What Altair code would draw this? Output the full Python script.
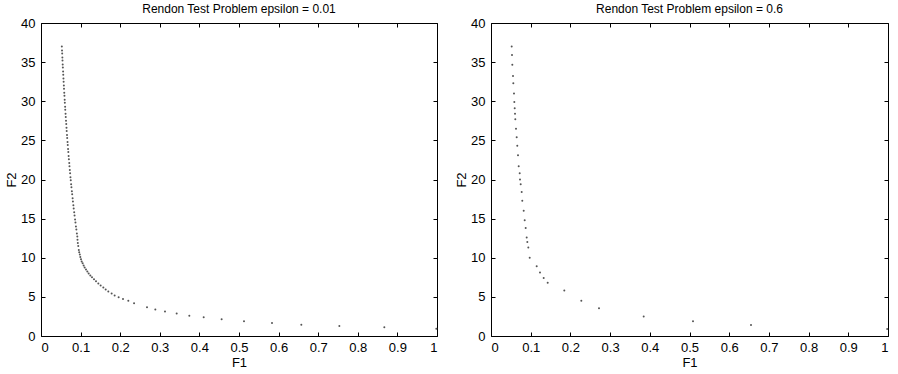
import altair as alt
import pandas as pd

# ---- Panel 1: epsilon = 0.01 ----
f1_eps001 = [
    0.0526, 0.0531, 0.0535, 0.0540, 0.0543, 0.0548, 0.0552, 0.0558, 0.0562, 0.0567,
    0.0571, 0.0577, 0.0581, 0.0587, 0.0592, 0.0598, 0.0602, 0.0609, 0.0613, 0.0620,
    0.0625, 0.0632, 0.0637, 0.0644, 0.0649, 0.0656, 0.0662, 0.0670, 0.0676, 0.0683,
    0.0690, 0.0698, 0.0704, 0.0713, 0.0719, 0.0728, 0.0735, 0.0744, 0.0752, 0.0761,
    0.0769, 0.0779, 0.0787, 0.0798, 0.0806, 0.0817, 0.0826, 0.0838, 0.0847, 0.0860,
    0.0870, 0.0882, 0.0893, 0.0906, 0.0917, 0.0922, 0.0930, 0.0941, 0.0955, 0.0965,
    0.0980, 0.0993, 0.1010, 0.1027, 0.1052, 0.1077, 0.1102, 0.1136, 0.1170, 0.1204,
    0.1246, 0.1288, 0.1338, 0.1389, 0.1448, 0.1506, 0.1574, 0.1633, 0.1700, 0.1784,
    0.1860, 0.1961, 0.2071, 0.2205, 0.2350, 0.2677, 0.2887, 0.3131, 0.3426, 0.3746,
    0.4108, 0.4562, 0.5126, 0.5833, 0.6574, 0.7534, 0.8670, 0.9983,
]
f2_eps001 = [
    37.0, 36.5, 36.1, 35.6, 35.2, 34.7, 34.3, 33.8, 33.4, 32.9,
    32.5, 32.0, 31.6, 31.1, 30.7, 30.2, 29.8, 29.3, 28.9, 28.4,
    28.0, 27.5, 27.1, 26.6, 26.2, 25.7, 25.3, 24.8, 24.4, 23.9,
    23.5, 23.0, 22.6, 22.1, 21.7, 21.2, 20.8, 20.3, 19.9, 19.4,
    19.0, 18.5, 18.1, 17.6, 17.2, 16.7, 16.3, 15.8, 15.4, 14.9,
    14.5, 14.0, 13.6, 13.1, 12.7, 12.3, 11.9, 11.5, 11.0, 10.7,
    10.4, 10.1, 9.8, 9.53, 9.3, 9.0, 8.76, 8.5, 8.24, 7.99,
    7.73, 7.5, 7.26, 7.0, 6.7, 6.45, 6.2, 5.94, 5.68, 5.42,
    5.17, 4.96, 4.74, 4.49, 4.19, 3.67, 3.38, 3.12, 2.86, 2.6,
    2.39, 2.14, 1.88, 1.67, 1.45, 1.28, 1.11, 0.94,
]

# ---- Panel 2: epsilon = 0.6 ----
f1_eps06 = [
    0.0521, 0.0529, 0.0537, 0.0554, 0.0562, 0.0579, 0.0587, 0.0597, 0.0605, 0.0612,
    0.0630, 0.0647, 0.0662, 0.0680, 0.0698, 0.0723, 0.0730, 0.0748, 0.0773, 0.0788,
    0.0824, 0.0849, 0.0874, 0.0899, 0.0914, 0.0940, 0.0975, 0.1151, 0.1234, 0.1327,
    0.1428, 0.1846, 0.2275, 0.2720, 0.3846, 0.5088, 0.6549, 0.9980,
]
f2_eps06 = [
    37.0, 35.9, 34.65, 33.24, 32.3, 31.0, 29.9, 29.1, 28.4, 27.7,
    26.5, 25.4, 24.3, 23.1, 21.7, 20.8, 20.0, 19.4, 18.4, 17.3,
    16.0, 14.8, 13.8, 12.6, 12.0, 11.3, 10.0, 8.9, 8.1, 7.4,
    6.8, 5.8, 4.5, 3.55, 2.5, 1.9, 1.4, 0.9,
]

x_ticks = [0, 0.1, 0.2, 0.3, 0.4, 0.5, 0.6, 0.7, 0.8, 0.9, 1]
y_ticks = [0, 5, 10, 15, 20, 25, 30, 35, 40]
titles = ["Rendon Test Problem epsilon = 0.01", "Rendon Test Problem epsilon = 0.6"]

FONT = "Liberation Sans"
TICK = 4


def panel(f1, f2, title, w, h):
    df = pd.DataFrame({"F1": f1, "F2": f2})
    base = alt.Chart(df)
    xs = alt.Scale(domain=[0, 1], nice=False, zero=False)
    ys = alt.Scale(domain=[0, 40], nice=False, zero=False)

    pts = base.mark_circle(size=4, color="#555555", opacity=1).encode(
        x=alt.X("F1:Q", scale=xs, axis=alt.Axis(
            orient="bottom", values=x_ticks, format="~g", ticks=False, domain=False,
            grid=False, title="F1", labelPadding=5, titlePadding=2,
            labelFont=FONT, labelFontSize=13, labelColor="black",
            titleFont=FONT, titleFontSize=13, titleFontWeight="normal", titleColor="black")),
        y=alt.Y("F2:Q", scale=ys, axis=alt.Axis(
            orient="left", values=y_ticks, ticks=False, domain=False, grid=False,
            title="F2", labelPadding=6, titlePadding=2,
            labelFont=FONT, labelFontSize=13, labelColor="black",
            titleFont=FONT, titleFontSize=13, titleFontWeight="normal", titleColor="black")),
    )

    def tick_layer(xo, yo):
        return base.mark_point(opacity=0).encode(
            x=alt.X("F1:Q", scale=xs, axis=alt.Axis(
                orient=xo, values=x_ticks, labels=False, domain=False, grid=False,
                ticks=True, tickSize=TICK, offset=-TICK, tickColor="black", title=None)),
            y=alt.Y("F2:Q", scale=ys, axis=alt.Axis(
                orient=yo, values=y_ticks, labels=False, domain=False, grid=False,
                ticks=True, tickSize=TICK, offset=-TICK, tickColor="black", title=None)),
        )

    return alt.layer(pts, tick_layer("bottom", "left"), tick_layer("top", "right")).resolve_axis(
        x="independent", y="independent"
    ).properties(
        width=w, height=h,
        title=alt.TitleParams(title, font=FONT, fontSize=12, fontWeight="normal",
                              color="black", offset=1),
    )


chart = alt.hconcat(
    panel(f1_eps001, f2_eps001, titles[0], 396, 313),
    panel(f1_eps06, f2_eps06, titles[1], 397, 313),
    spacing=15,
).configure_view(stroke="black", strokeWidth=1).properties(
    padding={"left": 5, "top": 2, "right": 0, "bottom": 0}
)

chart.save("out.html", embed_options={"renderer": "svg", "actions": False})
